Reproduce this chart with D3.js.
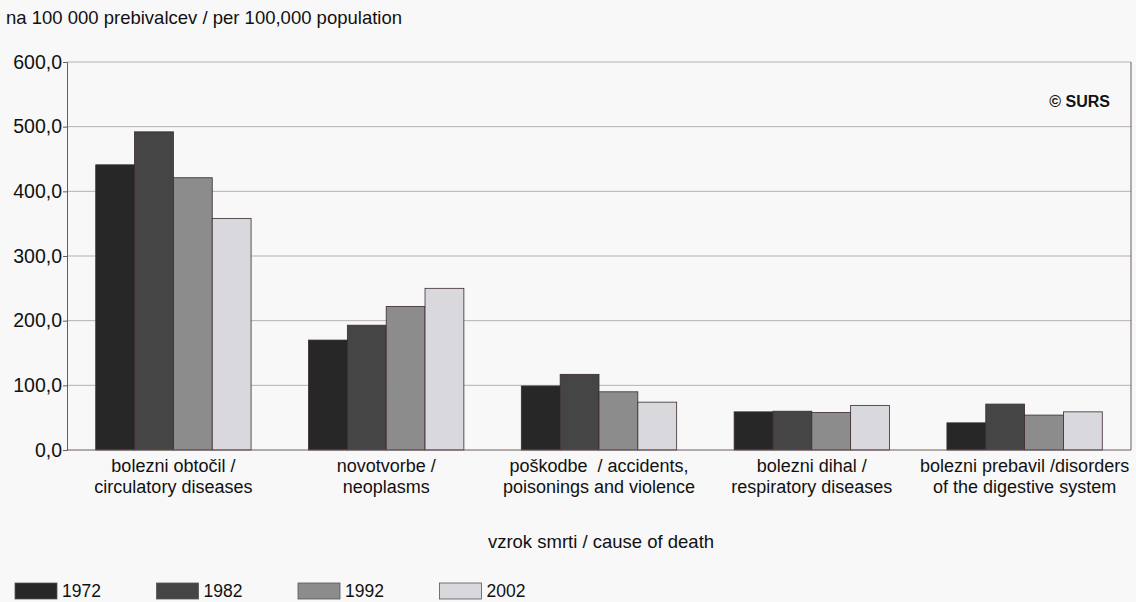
<!DOCTYPE html>
<html><head><meta charset="utf-8">
<script src="https://cdn.jsdelivr.net/npm/d3@7"></script>
<style>body{margin:0;background:#f8f8f8;} text{font-family:Arial,"Liberation Sans",sans-serif;fill:#111;white-space:pre;}</style>
</head><body>
<svg id="c" width="1136" height="602"></svg>
<script>
const categories = [
  ["bolezni obtočil /", "circulatory diseases"],
  ["novotvorbe /", "neoplasms"],
  ["poškodbe  / accidents,", "poisonings and violence"],
  ["bolezni dihal /", "respiratory diseases"],
  ["bolezni prebavil /disorders", "of the digestive system"]
];
const years = ["1972", "1982", "1992", "2002"];
const v1972 = [441, 170, 99, 59, 42];
const v1982 = [492, 193, 117, 60, 71];
const v1992 = [421, 222, 90, 58, 54];
const v2002 = [358, 250, 74, 69, 59];
const series = [v1972, v1982, v1992, v2002];
const yTicks = [0, 100, 200, 300, 400, 500, 600];
const colors = ["#272727", "#454545", "#8c8c8c", "#d9d9dd"];

const svg = d3.select("#c");
const L = 67, R = 1131, T = 62, B = 450;
const x0 = d3.scaleBand().domain(d3.range(categories.length)).range([L, R]).paddingInner(0.27).paddingOuter(0.135);
const x1 = d3.scaleBand().domain(d3.range(years.length)).range([0, x0.bandwidth()]);
const y = d3.scaleLinear().domain([0, 600]).range([B, T]);

svg.append("text").attr("x", 6).attr("y", 24).attr("font-size", 18.5).text("na 100 000 prebivalcev / per 100,000 population");

// grid
svg.append("g").selectAll("line").data(yTicks.filter(d => d > 0)).join("line")
  .attr("x1", L).attr("x2", R).attr("y1", d => y(d)).attr("y2", d => y(d))
  .attr("stroke", "#b8b0b4").attr("stroke-width", 1);

// y axis
const ya = svg.append("g").attr("transform", `translate(${L},0)`)
  .call(d3.axisLeft(y).tickValues(yTicks).tickSize(4).tickFormat(d => d3.format(".1f")(d).replace(".", ",")));
ya.select(".domain").attr("stroke", "#6a5a60");
ya.selectAll(".tick line").attr("stroke", "#6a5a60");
ya.selectAll("text").attr("font-size", 19.5).attr("font-family", "Arial, Liberation Sans, sans-serif").attr("fill", "#111").attr("x", -5);

// right border
svg.append("line").attr("x1", R).attr("x2", R).attr("y1", T).attr("y2", B).attr("stroke", "#6a5a60");

// bars
const g = svg.append("g");
categories.forEach((c, i) => {
  series.forEach((s, j) => {
    g.append("rect")
      .attr("x", x0(i) + x1(j)).attr("y", y(s[i]))
      .attr("width", x1.bandwidth()).attr("height", B - y(s[i]))
      .attr("fill", colors[j]).attr("stroke", "#3a2a30").attr("stroke-width", 0.8);
  });
});

// x axis baseline
svg.append("line").attr("x1", L).attr("x2", R).attr("y1", B).attr("y2", B).attr("stroke", "#6a5a60");

// category labels
categories.forEach((c, i) => {
  const cx = x0(i) + x0.bandwidth() / 2;
  c.forEach((line, k) => {
    svg.append("text").attr("x", cx).attr("y", 472 + k * 21).attr("text-anchor", "middle")
      .attr("font-size", 18).text(line);
  });
});

svg.append("text").attr("x", 601).attr("y", 548).attr("text-anchor", "middle").attr("font-size", 18.5).text("vzrok smrti / cause of death");

svg.append("text").attr("x", 1110).attr("y", 107).attr("text-anchor", "end").attr("font-size", 16).attr("font-weight", "bold").text("© SURS");

// legend
const lg = svg.append("g");
years.forEach((yr, j) => {
  const lx = 15 + j * 141.5;
  lg.append("rect").attr("x", lx).attr("y", 583).attr("width", 42).attr("height", 16)
    .attr("fill", colors[j]).attr("stroke", "#555").attr("stroke-width", 0.8);
  lg.append("text").attr("x", lx + 47).attr("y", 597).attr("font-size", 17.5).text(yr);
});
</script>
</body></html>
